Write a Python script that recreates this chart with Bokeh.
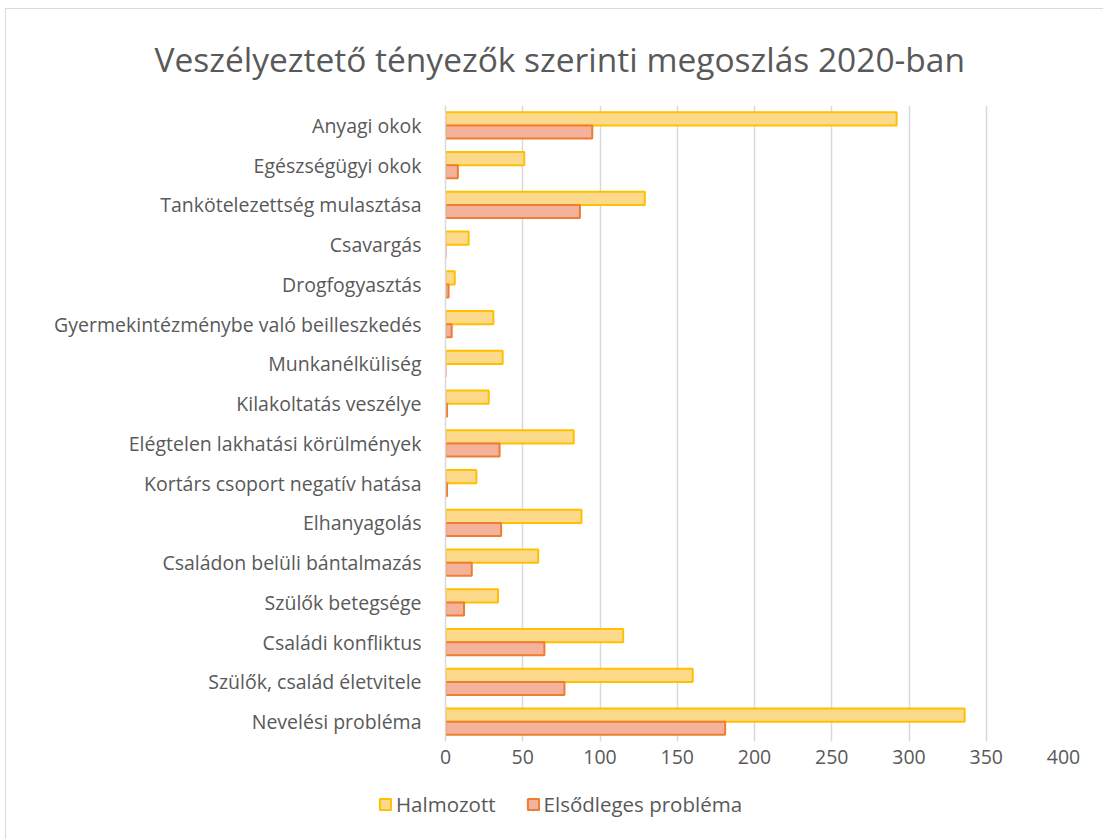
from bokeh.plotting import figure
from bokeh.models import FactorRange, Legend, LegendItem, ColumnDataSource, SingleIntervalTicker
from bokeh.layouts import column, row
from bokeh.transform import dodge
from bokeh.embed import file_html
from bokeh.resources import INLINE

categories = [
    "Anyagi okok",
    "Egészségügyi okok",
    "Tankötelezettség mulasztása",
    "Csavargás",
    "Drogfogyasztás",
    "Gyermekintézménybe való beilleszkedés",
    "Munkanélküliség",
    "Kilakoltatás veszélye",
    "Elégtelen lakhatási körülmények",
    "Kortárs csoport negatív hatása",
    "Elhanyagolás",
    "Családon belüli bántalmazás",
    "Szülők betegsége",
    "Családi konfliktus",
    "Szülők, család életvitele",
    "Nevelési probléma",
]
halmozott = [292, 51, 129, 15, 6, 31, 37, 28, 83, 20, 88, 60, 34, 115, 160, 336]
elsodleges = [95, 8, 87, 0, 2, 4, 0, 1, 35, 1, 36, 17, 12, 64, 77, 181]
series_names = ["Halmozott", "Elsődleges probléma"]

src = ColumnDataSource(dict(cat=categories, h=halmozott, e=elsodleges))

FONT = "Open Sans"
GREY = "#595959"
H_FILL, H_LINE = "#FDD98B", "#FFC000"
E_FILL, E_LINE = "#F4B29B", "#ED7D31"

p = figure(
    width=1098, height=780,
    y_range=FactorRange(factors=categories[::-1]),
    x_range=(0, 400),
    output_backend="svg", toolbar_location=None,
    min_border_left=439, min_border_right=41, min_border_top=95, min_border_bottom=48,
)
p.y_range.factor_padding = 0
p.y_range.range_padding = 0

p.hbar(y=dodge("cat", 0.165, range=p.y_range), right="h", left=0, height=0.33, source=src,
       fill_color=H_FILL, line_color=H_LINE, line_width=2)
p.hbar(y=dodge("cat", -0.165, range=p.y_range), right="e", left=0, height=0.33, source=src,
       fill_color=E_FILL, line_color=E_LINE, line_width=2)

p.title.text = "Veszélyeztető tényezők szerinti megoszlás 2020-ban"
p.title.align = "left"
p.title.offset = -291
p.title.text_font = FONT
p.title.text_font_size = "33.5px"
p.title.text_font_style = "normal"
p.title.text_color = GREY
p.title.standoff = 48

p.xaxis.ticker = SingleIntervalTicker(interval=50)
p.xaxis.axis_line_color = None
p.xaxis.major_tick_line_color = None
p.xaxis.minor_tick_line_color = None
p.xaxis.major_label_text_font = FONT
p.xaxis.major_label_text_font_size = "19.5px"
p.xaxis.major_label_text_color = GREY
p.xaxis.major_label_standoff = 2

p.yaxis.axis_line_color = "#D9D9D9"
p.yaxis.axis_line_width = 1.5
p.yaxis.major_tick_line_color = None
p.yaxis.minor_tick_line_color = None
p.yaxis.major_label_text_font = FONT
p.yaxis.major_label_text_font_size = "19.5px"
p.yaxis.major_label_text_color = GREY
p.yaxis.major_label_standoff = 18

p.xgrid.grid_line_color = "#D9D9D9"
p.xgrid.grid_line_width = 1.5
p.ygrid.grid_line_color = None
p.outline_line_color = None

# legend strip below the chart (renderers hidden, only the legend is drawn)
lf = figure(width=1098, height=51, output_backend="svg", toolbar_location=None,
            y_range=FactorRange(factors=categories[::-1]), x_range=(0, 400),
            min_border=0, min_border_left=0, min_border_right=0, min_border_top=0, min_border_bottom=0)
lf.axis.visible = False
lf.grid.visible = False
lf.outline_line_color = None
d1 = lf.hbar(y="cat", right="h", left=0, height=0.33, source=src,
             fill_color=H_FILL, line_color=H_LINE, line_width=2, visible=False)
d2 = lf.hbar(y="cat", right="e", left=0, height=0.33, source=src,
             fill_color=E_FILL, line_color=E_LINE, line_width=2, visible=False)
legend = Legend(items=[LegendItem(label=series_names[0], renderers=[d1]),
                       LegendItem(label=series_names[1], renderers=[d2])],
                orientation="horizontal", location=(372, 22),
                label_text_font=FONT, label_text_font_size="20.5px", label_text_color=GREY,
                glyph_width=14, glyph_height=14, spacing=30, label_standoff=4,
                border_line_color=None, background_fill_alpha=0, padding=0, margin=0)
lf.add_layout(legend, "center")

layout = column(p, row(lf), spacing=0)
layout.margin = (8, 0, 0, 5)
layout.styles = {"border": "1px solid #d9d9d9"}

open("out.html", "w").write(file_html(layout, INLINE))
